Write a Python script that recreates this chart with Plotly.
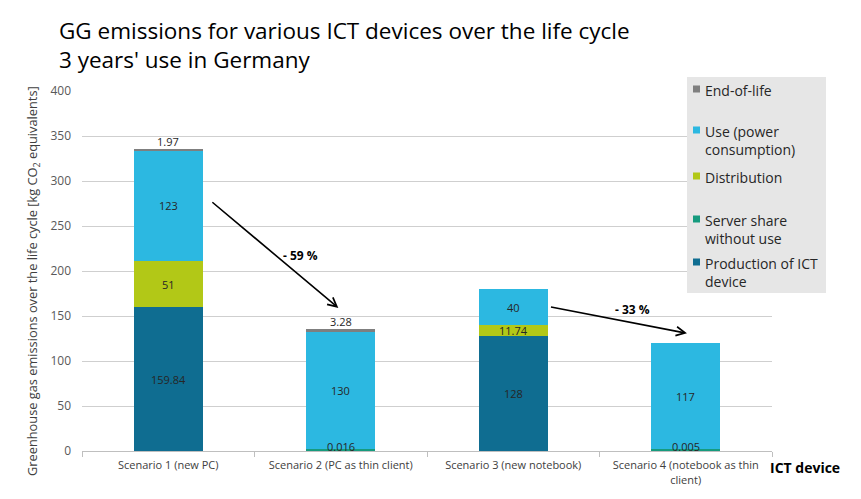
import plotly.graph_objects as go

categories = ["Scenario 1 (new PC)", "Scenario 2 (PC as thin client)",
              "Scenario 3 (new notebook)", "Scenario 4 (notebook as thin<br>client)"]
production = [159.84, 0, 128, 0]
server_share = [0, 2.5, 0, 2.5]
distribution = [51, 0, 11.74, 0]
use_power = [123, 130, 40, 117]
end_of_life = [1.97, 3.28, 0, 0]

production_labels = ["159.84", None, "128", None]
server_labels = [None, "0.016", None, "0.005"]
distribution_labels = ["51", None, "11.74", None]
use_labels = ["123", "130", "40", "117"]
eol_labels = ["1.97", "3.28", None, None]

series_names = ["Production of ICT device", "Server share without use", "Distribution",
                "Use (power consumption)", "End-of-life"]
legend_texts = ["End-of-life", "Use (power<br>consumption)", "Distribution",
                "Server share<br>without use", "Production of ICT<br>device"]
colors = {"prod": "#0f6d91", "server": "#169b7e", "dist": "#b2c817",
          "use": "#2cb8e1", "eol": "#7f7f7f"}

FONT = "Open Sans"
OFF = 8  # page body margin
W, H = 861 - OFF, 499 - OFF
L, T = 82 - OFF, 91 - OFF
R = W - (772 - OFF)
B = H - (451 - OFF)
pw, ph = W - L - R, H - T - B


def px(x):
    return (x - OFF - L) / pw


def py(y):
    return (H - B - (y - OFF)) / ph


fig = go.Figure()
stack = [(production, colors["prod"], series_names[0]),
         (server_share, colors["server"], series_names[1]),
         (distribution, colors["dist"], series_names[2]),
         (use_power, colors["use"], series_names[3]),
         (end_of_life, colors["eol"], series_names[4])]
for vals, col, name in stack:
    fig.add_trace(go.Bar(x=categories, y=vals, name=name, marker_color=col,
                         marker_line_width=0, showlegend=False, hoverinfo="skip"))

annotations = []
lab_font = dict(family=FONT, size=11, color="#262626")
layers = [(production, production_labels), (server_share, server_labels),
          (distribution, distribution_labels), (use_power, use_labels),
          (end_of_life, eol_labels)]
for i, c in enumerate(categories):
    base = 0
    for k, (vals, labs) in enumerate(layers):
        v = vals[i]
        lab = labs[i]
        if lab is not None:
            if k == 1:
                y, ya, ys = base, "middle", 5
            elif k == 4:
                y, ya, ys = base + v, "bottom", -2
            else:
                y, ya, ys = base + v / 2, "middle", 0
            annotations.append(dict(x=c, y=y, xref="x", yref="y", text=lab, showarrow=False,
                                    yanchor=ya, yshift=ys, font=lab_font))
        base += v

# trend arrows
arrows = [((0.247, 277.8), (0.986, 159.0), "- 59 %", (0.765, 216.7)),
          ((2.21, 160.3), (3.007, 130.8), "- 33 %", (2.69, 157.4))]
for (x0, y0), (x1, y1), txt, (tx, ty) in arrows:
    annotations.append(dict(x=x1, y=y1, ax=x0, ay=y0, xref="x", yref="y", axref="x", ayref="y",
                            text="", showarrow=True, arrowhead=5, arrowsize=1.1, arrowwidth=1.6,
                            arrowcolor="#000000"))
    annotations.append(dict(x=tx, y=ty, xref="x", yref="y", text="<b>" + txt + "</b>",
                            showarrow=False, font=dict(family=FONT, size=12, color="#000000")))

# title
annotations.append(dict(x=px(57), y=py(44.5), xref="paper", yref="paper", xanchor="left",
                        yanchor="middle", align="left", showarrow=False,
                        text="GG emissions for various ICT devices over the life cycle<br>3 years' use in Germany",
                        font=dict(family=FONT, size=22.5, color="#000000")))

annotations.append(dict(x=px(33), y=py(281), xref="paper", yref="paper", xanchor="center",
                        yanchor="middle", textangle=-90, showarrow=False,
                        text="Greenhouse gas emissions over the life cycle [kg CO<sub>2</sub> equivalents]",
                        font=dict(family=FONT, size=12.8, color="#404040")))
annotations.append(dict(x=px(768), y=py(467), xref="paper", yref="paper", xanchor="left",
                        yanchor="middle", showarrow=False,
                        text="<b>ICT device</b>", font=dict(family=FONT, size=14, color="#000000")))

# legend box
shapes = [dict(type="rect", xref="paper", yref="paper", x0=px(687), x1=px(826), y0=py(293), y1=py(77),
               fillcolor="#e6e6e6", line_width=0, layer="above")]
leg_cols = [colors["eol"], colors["use"], colors["dist"], colors["server"], colors["prod"]]
leg_y = [89, 130, 176, 219, 262]
for txt, col, yy in zip(legend_texts, leg_cols, leg_y):
    shapes.append(dict(type="rect", xref="paper", yref="paper", x0=px(693), x1=px(700),
                       y0=py(yy + 3.5), y1=py(yy - 3.5), fillcolor=col, line_width=0, layer="above"))
    annotations.append(dict(x=px(703), y=py(yy - 10), xref="paper", yref="paper", xanchor="left",
                            yanchor="top", align="left", showarrow=False, text=txt,
                            font=dict(family=FONT, size=14, color="#262626")))

fig.update_layout(
    width=W, height=H, barmode="stack", bargap=0.6,
    margin=dict(l=L, r=R, t=T, b=B, autoexpand=False),
    plot_bgcolor="white", paper_bgcolor="white",
    annotations=annotations, shapes=shapes,
    xaxis=dict(showgrid=False, showline=True, linecolor="#bfbfbf", linewidth=1,
               ticks="outside", tickson="boundaries", ticklen=5, tickcolor="#bfbfbf",
               ticklabelstandoff=4,
               tickfont=dict(family=FONT, size=11, color="#404040")),
    yaxis=dict(range=[0, 400], dtick=50, showgrid=True, gridcolor="#cfcfcf", gridwidth=1,
               zeroline=False, ticks="", ticklabelstandoff=10,
               tickfont=dict(family=FONT, size=12, color="#595959")),
)
fig.write_html("out.html")
